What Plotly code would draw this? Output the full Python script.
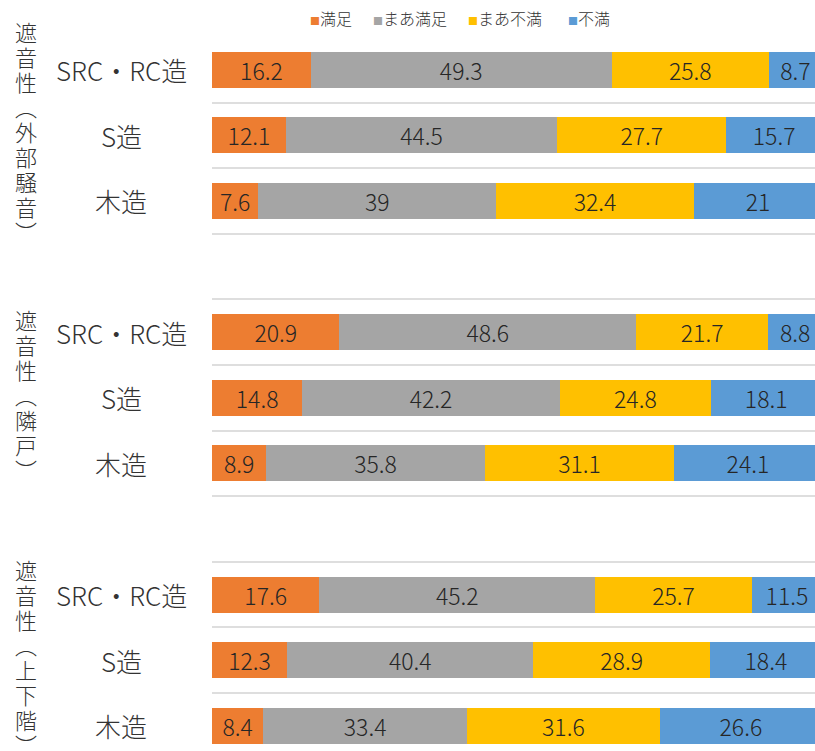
import plotly.graph_objects as go

# ---- data ----
groups = ["遮音性（外部騒音）", "遮音性（隣戸）", "遮音性（上下階）"]
structures = ["SRC・RC造", "S造", "木造"]
series_names = ["満足", "まあ満足", "まあ不満", "不満"]
colors = ["#ED7D31", "#A5A5A5", "#FFC000", "#5B9BD5"]

# values per series, rows ordered group by group, structure by structure
satisfied =      [16.2, 12.1, 7.6, 20.9, 14.8, 8.9, 17.6, 12.3, 8.4]
fairly_sat =     [49.3, 44.5, 39, 48.6, 42.2, 35.8, 45.2, 40.4, 33.4]
fairly_unsat =   [25.8, 27.7, 32.4, 21.7, 24.8, 31.1, 25.7, 28.9, 31.6]
unsatisfied =    [8.7, 15.7, 21, 8.8, 18.1, 24.1, 11.5, 18.4, 26.6]
series_values = [satisfied, fairly_sat, fairly_unsat, unsatisfied]

# ---- layout helpers ----
W, H = 815, 751
ML, MT = 212, 36
slots_per_group = len(structures) + 1  # one blank slot between groups
ypos = [g * slots_per_group + i for g in range(len(groups)) for i in range(len(structures))]
y_top, y_bottom = -0.515, 10.384
x_range = [0, 98.85]
plot_w = W - ML
plot_h = H - MT
FONT = "Noto Sans CJK JP"

fig = go.Figure()
for name, vals, col in zip(series_names, series_values, colors):
    fig.add_trace(go.Bar(
        x=vals, y=ypos, orientation="h", name=name,
        marker=dict(color=col, line=dict(width=0)),
        text=[f"{v:g}" for v in vals], textposition="inside",
        insidetextanchor="middle", textangle=0, constraintext="none",
        textfont=dict(size=23, color="#262626", family=FONT, weight=300),
        hoverinfo="skip", showlegend=False,
    ))

annotations = []
# category labels
for g in range(len(groups)):
    for i, s in enumerate(structures):
        annotations.append(dict(
            x=(121 - ML) / plot_w, xref="paper", y=g * slots_per_group + i, yref="y",
            text=s, showarrow=False, xanchor="center", yanchor="middle",
            font=dict(size=26, color="#333333", family=FONT, weight=300),
        ))

# vertical group labels (one character per annotation, stacked)
vert_map = {"（": "︵", "）": "︶"}
pitch = 25.0
px_per_unit = plot_h / (y_bottom - y_top)
for g, label in enumerate(groups):
    center_unit = g * slots_per_group + (len(structures) - 1) / 2
    center_px = MT + (center_unit - y_top) * px_per_unit - 4
    n = len(label)
    for k, ch in enumerate(label):
        cy = center_px + (k - (n - 1) / 2) * pitch
        annotations.append(dict(
            x=(26 - ML) / plot_w, xref="paper",
            y=1 - (cy - MT) / plot_h, yref="paper",
            text=vert_map.get(ch, ch), showarrow=False,
            xanchor="center", yanchor="middle",
            font=dict(size=22, color="#333333", family=FONT, weight=300),
        ))

# legend (top)
legend_x = [308, 371, 466, 566]
for name, col, lx in zip(series_names, colors, legend_x):
    annotations.append(dict(
        x=(lx - ML) / plot_w, xref="paper", y=1 + (MT - 18) / plot_h, yref="paper",
        text=f"<span style='color:{col};font-size:10px'>■</span>{name}",
        showarrow=False, xanchor="left", yanchor="middle",
        font=dict(size=16, color="#333333", family=FONT, weight=300),
    ))

fig.update_layout(
    width=W, height=H,
    margin=dict(l=ML, r=0, t=MT, b=0, pad=0),
    barmode="stack", bargap=0.45,
    plot_bgcolor="white", paper_bgcolor="white",
    font=dict(family=FONT, color="#333333"),
    xaxis=dict(range=x_range, showgrid=False, zeroline=False,
               showticklabels=False, showline=False, ticks=""),
    yaxis=dict(range=[y_bottom, y_top], tick0=0.5, dtick=1, showgrid=True,
               gridcolor="#DEDEDE", gridwidth=2, zeroline=False,
               showticklabels=False, showline=False, ticks=""),
    annotations=annotations,
    showlegend=False,
)

fig.write_html("out.html")
